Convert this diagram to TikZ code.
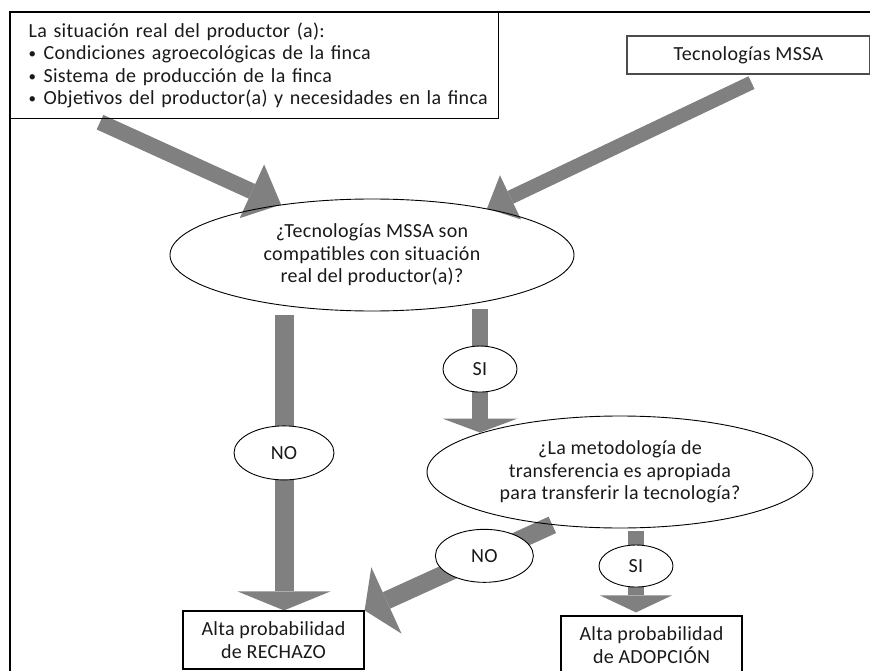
\documentclass[tikz,border=0pt]{standalone}
\usepackage{fontspec}
\setmainfont{Carlito}[LetterSpace=1.5]
\usepackage{tikz}
\usetikzlibrary{shapes.geometric,arrows.meta,calc,backgrounds,positioning}
\definecolor{flecha}{RGB}{128,128,128}
\definecolor{texto}{RGB}{25,25,25}

\newcommand{\vineta}{\makebox[15pt][l]{\raisebox{1pt}{\scalebox{0.75}{\textbullet}}}}

\tikzset{
  caja/.style={draw=black, line width=1.2pt, rectangle, inner sep=0pt, align=center},
  pregunta/.style={draw=black, line width=0.9pt, ellipse, inner sep=0pt, align=center},
  etiqueta/.style={draw=black, line width=0.9pt, ellipse, fill=white, inner sep=0pt},
  bloque/.style={draw=flecha, line width=#1},
  bloque/.default=17pt
}

\begin{document}
\begin{tikzpicture}[x=1pt,y=-1pt,font=\fontsize{20}{22.5}\selectfont,text=texto]
	\useasboundingbox (0,0) rectangle (870,671);
	
	%marco
	\draw[line width=2pt] (870,12) -- (10,12) -- (10,671);
	
	%cajas de entrada
	\node[caja, anchor=north west, minimum width=488pt, minimum height=106pt,
	      text width=452pt, align=left] (situacion) at (10,12)
	  {\mbox{La situación real del productor (a):}\\
	   \mbox{\vineta Condiciones agroecológicas de la finca}\\
	   \mbox{\vineta Sistema de producción de la finca}\\
	   \mbox{\vineta Objetivos del productor(a) y necesidades en la finca}};
	\node[caja, draw=black!70, minimum width=243pt, minimum height=38pt] (mssa) at (748.5,55) {Tecnologías MSSA};
	
	%preguntas
	\node[pregunta, minimum width=404pt, minimum height=112pt] (compatible) at (372,255)
	  {¿Tecnologías MSSA son\\compatibles con situación\\real del productor(a)?};
	\node[pregunta, minimum width=386pt, minimum height=112pt] (metodologia) at (620,472)
	  {¿La metodología de\\transferencia es apropiada\\para transferir la tecnología?};
	
	%resultados
	\node[caja, minimum width=181pt, minimum height=58pt] (rechazo) at (273.5,640) {Alta probabilidad\\de RECHAZO};
	\node[caja, minimum width=181pt, minimum height=58pt] (adopcion) at (651.5,645) {Alta probabilidad\\de ADOPCIÓN};
	
	%flechas
	\begin{pgfonlayer}{background}
		\draw[bloque=16pt, -{Triangle[width=59pt,length=32pt,line width=0pt]}]
		  ($(situacion.south west)+(90,3)$) -- (compatible.151);
		\draw[bloque=14pt, -{Triangle[width=49pt,length=26pt,line width=0pt]}]
		  ($(mssa.south)+(3,8)$) -- (compatible.22);
		\draw[bloque=19pt, -{Triangle[width=93pt,length=19pt,line width=0pt]}]
		  ($(compatible.south)+(-88,4)$) -- ($(rechazo.north)+(10.5,0)$)
		  node[etiqueta, minimum width=100pt, minimum height=54pt, pos=0.466] (no1) {NO};
		\draw[bloque=16pt, -{Triangle[width=75pt,length=14pt,line width=0pt]}]
		  ($(compatible.south)+(108,-2)$) -- ($(metodologia.north)+(-140,17)$)
		  node[etiqueta, minimum width=74pt, minimum height=46pt, pos=0.484] (si1) {SI};
		\draw[bloque=18pt, -{Triangle[width=73pt,length=24pt,line width=0pt]}]
		  (metodologia.218) -- (rechazo.north east)
		  node[etiqueta, minimum width=98pt, minimum height=53pt, pos=0.362] (no2) {NO};
		\draw[bloque=16pt, -{Triangle[width=72pt,length=17pt,line width=0pt]}]
		  ($(metodologia.south)+(16,3)$) -- ($(adopcion.north)+(-15.5,-3)$)
		  node[etiqueta, minimum width=74pt, minimum height=42pt, pos=0.427] (si2) {SI};
	\end{pgfonlayer}
\end{tikzpicture}
\end{document}
